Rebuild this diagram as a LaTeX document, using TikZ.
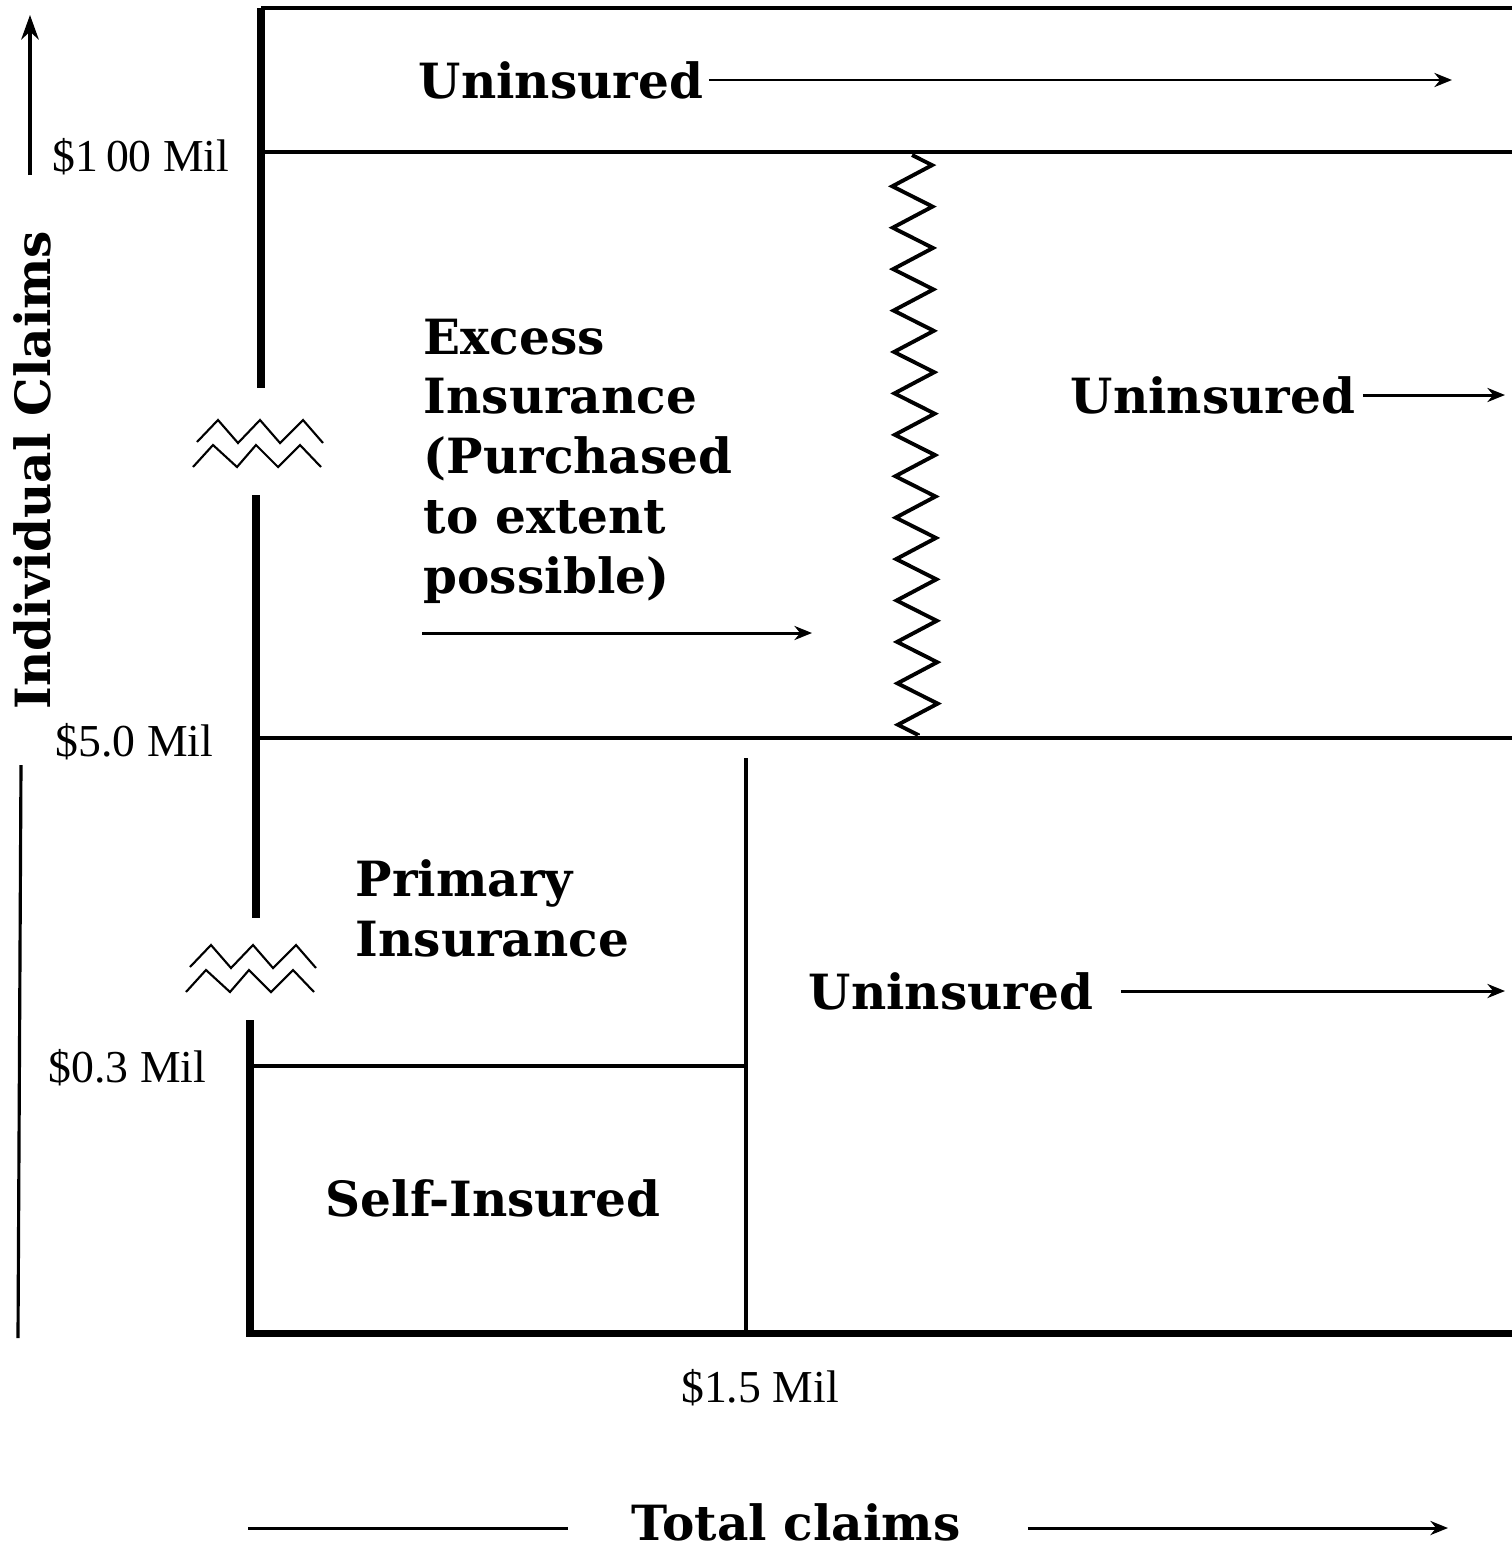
\documentclass[tikz,border=0pt]{standalone}
\usepackage{fontspec}
\setmainfont{DejaVu Serif}
\newfontfamily\tickfont{Liberation Serif}
\usetikzlibrary{arrows.meta, decorations.pathmorphing}

\begin{document}
\begin{tikzpicture}[x = 0.01cm, y = -0.01cm,
    every node/.style = {inner sep = 0pt},
    zone/.style = {font = \bfseries\fontsize{13.8}{17}\selectfont, align = left},
    ticklabel/.style = {font = \tickfont\fontsize{13}{15}\selectfont},
    boxline/.style = {line width = 1.1pt},
    heavyline/.style = {line width = 2.3pt},
    flow/.style = {line width = 0.85pt, -{Stealth[length = 5pt, width = 4pt]}},
    brk/.pic = {
        \draw[line width = 0.6pt] (4,22) -- (25,0) -- (45,23) -- (67,0) -- (87,23) -- (110,0) -- (130,23);
        \draw[line width = 0.6pt] (0,47) -- (20,25) -- (44,47) -- (63,25) -- (85,47) -- (107,25) -- (128,47);
    }]
    \useasboundingbox (0,0) rectangle (1512,1548);

    \draw[heavyline] (261,8) -- (261,388);
    \draw[heavyline] (256,495) -- (256,918);
    \draw[heavyline] (250,1020) -- (250,1336);
    \pic at (193,420) {brk};
    \pic at (186,945) {brk};

    \draw[boxline] (261,8) -- (1512,8);
    \draw[boxline] (261,152) -- (1512,152);
    \draw[boxline] (256,738) -- (1512,738);
    \draw[line width = 2pt] (246,1333) -- (1512,1333);
    \draw[boxline] (746,758) -- (746,1333);
    \draw[line width = 0.9pt] (250,1066) -- (746,1066);

    \coordinate (ztop) at (912,155);
    \coordinate (zbot) at (918,735);
    \draw[boxline, decorate, decoration = {zigzag, segment length = 0.414cm, amplitude = 0.2cm}] (ztop) -- (zbot);

    \node[zone, anchor = west] (unins1) at (418,80) {Uninsured};
    \coordinate (unins1end) at (1452,80);
    \draw[flow, shorten < = 1.5pt] (unins1.east) -- (unins1end);

    \node[zone, anchor = west] (unins2) at (1070,395) {Uninsured};
    \coordinate (unins2end) at (1505,395);
    \draw[flow, shorten < = 2pt] (unins2.east) -- (unins2end);

    \node[zone, anchor = north west] (excess) at (423,318) {Excess\\Insurance\\(Purchased\\to extent\\possible)};
    \coordinate (excessbeg) at (422,633);
    \coordinate (excessend) at (812,633);
    \draw[flow] (excessbeg) -- (excessend);

    \node[zone, anchor = north west] (primary) at (355,859) {Primary\\Insurance};

    \node[zone, anchor = west] (unins3) at (808,991) {Uninsured};
    \coordinate (unins3end) at (1505,991);
    \draw[flow, shorten < = 7.7pt] (unins3.east) -- (unins3end);

    \node[zone, anchor = west] (self) at (325,1198) {Self-Insured};

    \node[ticklabel, anchor = west] (lab100) at (52,157) {\$1\,00 Mil};
    \node[ticklabel, anchor = west] (lab5) at (55,742) {\$5.0 Mil};
    \node[ticklabel, anchor = west] (lab03) at (48,1068) {\$0.3 Mil};
    \node[ticklabel] (lab15) at (760,1388) {\$1.5 Mil};

    \node[zone, rotate = 90] (ylabel) at (32,470) {Individual Claims};
    \coordinate (yup) at (30,175);
    \coordinate (ytop) at (30,15);
    \draw[line width = 1pt, -{Stealth[length = 7pt, width = 5pt]}] (yup) -- (ytop);
    \draw[line width = 0.9pt] (21,765) -- (18,1338);

    \node[zone] (xlabel) at (796,1522) {Total claims};
    \coordinate (xleft) at (248,1528);
    \coordinate (xright) at (1448,1528);
    \draw[line width = 0.85pt, shorten > = 18pt] (xleft) -- (xlabel.west |- xleft);
    \draw[flow, shorten < = 19pt] (xlabel.east |- xright) -- (xright);
\end{tikzpicture}
\end{document}
